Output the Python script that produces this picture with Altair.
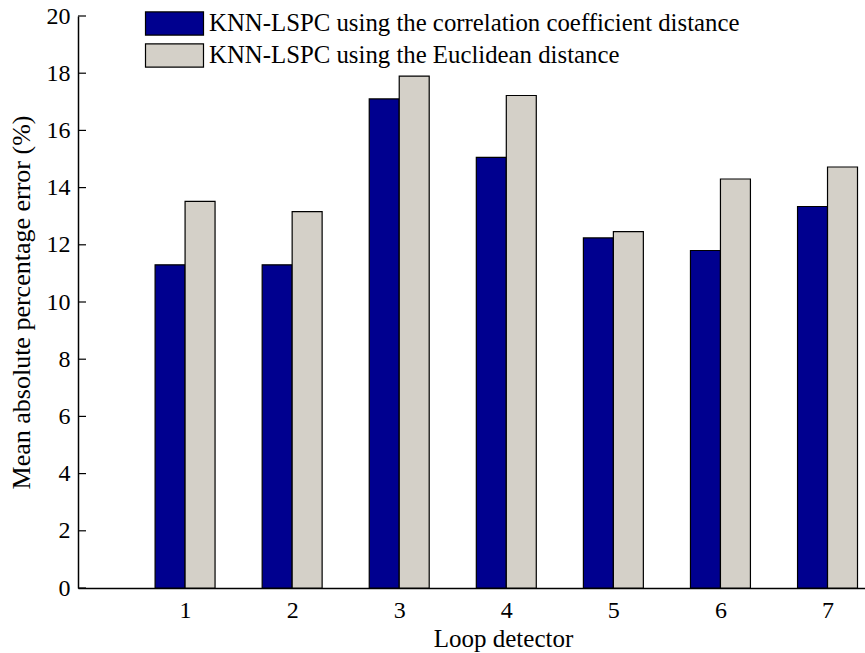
import altair as alt
import pandas as pd

detectors = [1, 2, 3, 4, 5, 6, 7]
corr_values = [11.3, 11.3, 17.1, 15.06, 12.24, 11.8, 13.34]
eucl_values = [13.52, 13.16, 17.9, 17.22, 12.46, 14.3, 14.72]
series_names = [
    "KNN-LSPC using the correlation coefficient distance",
    "KNN-LSPC using the Euclidean distance",
]
series_colors = ["#00008F", "#D4D0C8"]
y_ticks = [0, 2, 4, 6, 8, 10, 12, 14, 16, 18, 20]

BW = 0.28
rows = []
for d, v in zip(detectors, corr_values):
    rows.append({"det": d, "x0": d - BW, "x1": d, "val": v, "base": 0, "series": series_names[0]})
for d, v in zip(detectors, eucl_values):
    rows.append({"det": d, "x0": d, "x1": d + BW, "val": v, "base": 0, "series": series_names[1]})
df = pd.DataFrame(rows)

FONT = "Liberation Serif"

xscale = alt.Scale(domain=[0, 7.35], nice=False, zero=False)
yscale = alt.Scale(domain=[0, 20], nice=False)

symbol_path = "M-2.5,-1H2.5V1H-2.5Z"

bars = alt.Chart(df).mark_bar(stroke="black", strokeWidth=1.2).encode(
    x=alt.X("x0:Q", scale=xscale,
            axis=alt.Axis(values=detectors, title="Loop detector", ticks=False,
                          grid=False, labelPadding=10, titlePadding=4,
                          titleX=425, format="d", titleFontSize=25)),
    x2="x1:Q",
    y=alt.Y("val:Q", scale=yscale,
            axis=alt.Axis(values=y_ticks, title="Mean absolute percentage error (%)",
                          ticks=False, grid=False, labelPadding=8, titlePadding=12,
                          titleFontSize=26)),
    y2="base:Q",
    color=alt.Color("series:N",
                    scale=alt.Scale(domain=series_names, range=series_colors),
                    legend=alt.Legend(title=None, orient="none", legendX=84, legendY=-5,
                                      symbolType=symbol_path, symbolSize=538,
                                      symbolStrokeColor="black", symbolStrokeWidth=1.2,
                                      symbolOpacity=1,
                                      labelFont=FONT, labelFontSize=24.8,
                                      labelColor="black", rowPadding=3,
                                      labelOffset=22, labelLimit=800)),
)

tick_df = pd.DataFrame({"t": y_ticks})
ticks = alt.Chart(tick_df).mark_rule(color="black", strokeWidth=1.2).encode(
    y=alt.Y("t:Q", scale=yscale),
    x=alt.value(0),
    x2=alt.value(8),
)

chart = alt.layer(bars, ticks).properties(
    width=787, height=572,
    autosize=alt.AutoSizeParams(type="none"),
    padding={"left": 78, "top": 16, "right": 0, "bottom": 65},
).configure(background="white").configure_view(stroke=None).configure_axis(
    domainColor="black", domainWidth=1.5,
    labelFont=FONT, labelFontSize=24, labelColor="black",
    titleFont=FONT, titleFontSize=24, titleFontWeight="normal", titleColor="black",
)

chart.save("out.html", embed_options={"renderer": "svg", "actions": False})
